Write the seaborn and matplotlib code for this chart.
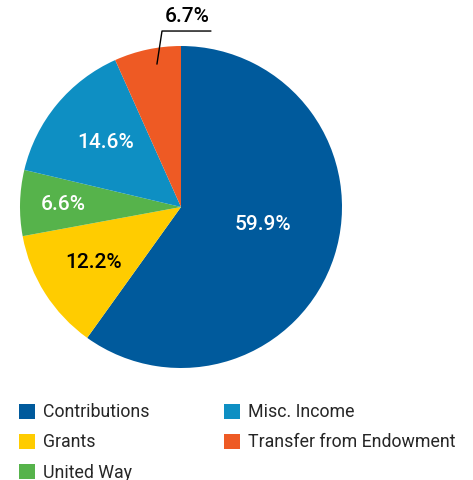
import numpy as np
import matplotlib
matplotlib.use("Agg")
import matplotlib.pyplot as plt
import seaborn as sns

# Daten
categories = ["Contributions", "Grants", "United Way", "Misc. Income", "Transfer from Endowment"]
shares = [59.9, 12.2, 6.6, 14.6, 6.7]
colors = ["#005A9C", "#FFCC00", "#56B34B", "#0E8FC3", "#EE5A24"]
label_colors = ["white", "black", "white", "white", "black"]

# Stil
sns.set_theme(style="white")
plt.rcParams['font.family'] = ['Roboto', 'DejaVu Sans']

fig = plt.figure(figsize=(4.73, 4.80), dpi=100)
# Pie-Bereich: Mittelpunkt (181, 207) px, Radius 161 px
ax = fig.add_axes([20 / 473, (480 - 368) / 480, 322 / 473, 322 / 480])

wedges, _ = ax.pie(shares, colors=colors, startangle=90, counterclock=False,
                   wedgeprops={'linewidth': 0})
ax.set_xlim(-1, 1)
ax.set_ylim(-1, 1)
ax.set_aspect('auto')
ax.axis('off')

# Beschriftungen innerhalb der Segmente
label_radius = [0.52, 0.64, 0.73, 0.62]
angle_nudge = [6, 0, 0, -1]
for i in range(4):
    w = wedges[i]
    mid = np.deg2rad((w.theta1 + w.theta2) / 2 + angle_nudge[i])
    r = label_radius[i]
    ax.text(r * np.cos(mid), r * np.sin(mid), f"{shares[i]:.1f}%",
            ha='center', va='center', fontsize=15, fontweight='medium',
            color=label_colors[i])

# Kleines Segment: Beschriftung außen mit Führungslinie
w = wedges[4]
mid = np.deg2rad((w.theta1 + w.theta2) / 2 - 2.5)
x0, y0 = 0.90 * np.cos(mid), 0.90 * np.sin(mid)
x1, y1 = -0.118, 1.093
x2 = 0.186
ax.plot([x0, x1, x2], [y0, y1, y1], color='black', linewidth=1, clip_on=False)
ax.text(0.037, 1.125, f"{shares[4]:.1f}%", ha='center', va='bottom',
        fontsize=15, fontweight='medium', color='black')

# Legende
leg = fig.legend(wedges, categories, ncol=2, loc='upper left',
                 bbox_to_anchor=(14 / 473, 1 - 398 / 480), frameon=False,
                 fontsize=12.8, handlelength=0.9, handleheight=0.9,
                 handletextpad=0.45, columnspacing=4.15, labelspacing=0.68,
                 borderaxespad=0, borderpad=0.3)

fig.savefig("out.png", dpi=100)
